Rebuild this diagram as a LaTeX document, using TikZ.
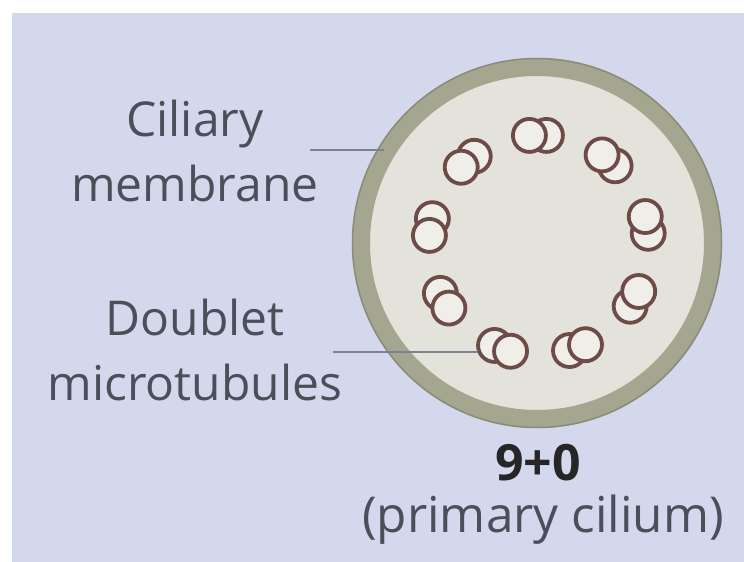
\documentclass[tikz,border=0pt]{standalone}
\usepackage{fontspec}
\setmainfont{Open Sans}
\usetikzlibrary{calc}

\definecolor{panel}{HTML}{D3D8EC}
\definecolor{ringcol}{HTML}{A5A690}
\definecolor{ringedge}{HTML}{8B8B78}
\definecolor{matrixcol}{HTML}{E3E2DB}
\definecolor{tubeline}{HTML}{6E4B47}
\definecolor{tubefill}{HTML}{F0EEE9}
\definecolor{labeltext}{HTML}{4B4F5A}
\definecolor{leadercol}{HTML}{7C8294}

\tikzset{
  label text/.style={text=labeltext, font=\fontsize{48}{65}\selectfont,
    align=center, inner sep=0pt},
  tubule/.style={circle, draw=tubeline, fill=tubefill, line width=3.8pt,
    minimum size=33pt, inner sep=0pt, outer sep=0pt},
  leader/.style={draw=leadercol, line width=2pt},
}

\begin{document}
\begin{tikzpicture}[x=1pt, y=1pt]
  % canvas and tinted panel
  \useasboundingbox (0,0) rectangle (744,-562);
  \fill[white] (0,0) rectangle (744,-562);
  \fill[panel] (12,-13) rectangle (744,-562);

  % ciliary membrane and matrix
  \coordinate (cc) at (537,-243);
  \fill[matrixcol] (cc) circle (170pt);
  \draw[ringcol, line width=18pt] (cc) circle (176pt);
  \draw[ringedge, line width=1.5pt] (cc) circle (184.5pt);

  % nine doublet microtubules: B tubule behind, A tubule in front
  \begin{scope}[shift={(539,-245)}]
    \foreach \i in {1,...,9} {
      \pgfmathsetmacro{\ang}{95-40*(\i-1)}
      \node[tubule] (b\i) at ($(\ang:110pt)+(\ang-95:17pt)$) {};
      \node[tubule] (a\i) at (\ang:110pt) {};
    }
  \end{scope}

  % labels (anchored on the baseline of their last line)
  \node[label text, anchor=base] (memlabel) at (195,-201) {Ciliary\\membrane};
  \node[label text, anchor=base] (dbllabel) at (195,-400) {Doublet\\microtubules};
  \node[text=black!85, font=\fontsize{50}{60}\selectfont\bfseries,
        inner sep=0pt, anchor=base] (count) at (538,-480) {9+0};
  \node[label text, font=\fontsize{49.5}{60}\selectfont, anchor=base]
        (kind) at (543,-532) {(primary cilium)};

  % leader lines
  \coordinate (memstart) at (310,-150);
  \coordinate (memend) at (384,-150);
  \draw[leader] (memstart) -- (memend);
  \coordinate (dblstart) at (333,-352);
  \draw[leader] (dblstart) -- (dblstart -| b6.west);
\end{tikzpicture}
\end{document}
